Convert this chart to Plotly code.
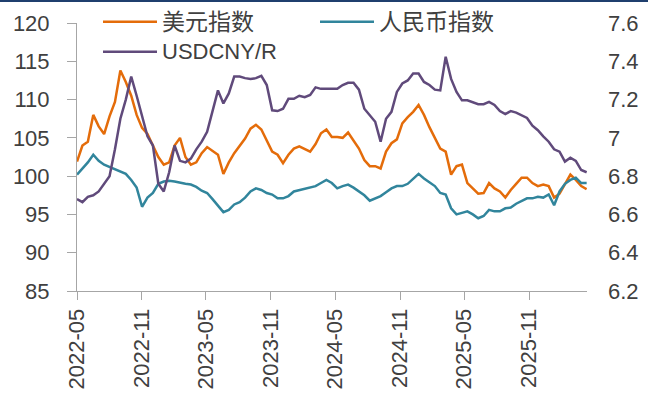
import pandas as pd
import plotly.graph_objects as go

# semi-monthly readings, 2022-05 to mid 2026-04
dates = pd.date_range("2022-05-01", "2026-04-13", periods=95)

usd_index = [
    101.9, 104.0, 104.5, 108.0, 106.5, 105.5, 107.8, 109.7, 113.8, 112.3,
    110.5, 108.0, 106.3, 105.5, 104.0, 102.5, 101.5, 101.8, 104.0, 105.0,
    102.5, 101.5, 101.8, 103.0, 103.8, 103.3, 102.8, 100.3, 101.8, 103.0,
    103.9, 104.9, 106.2, 106.7, 106.1, 104.7, 103.2, 102.8, 101.7, 102.8,
    103.6, 103.9, 103.6, 103.2, 104.2, 105.6, 106.1, 105.1, 105.1, 105.0,
    105.7, 104.6, 103.6, 102.1, 101.3, 101.3, 101.0, 103.2, 104.3, 104.8,
    106.9, 107.7, 108.4, 109.3, 108.0, 106.4, 104.9, 103.6, 103.2, 100.2,
    101.3, 101.5, 99.1, 98.4, 97.7, 97.8, 99.1, 98.4, 98.0, 97.2,
    98.2, 99.0, 99.8, 99.8, 99.1, 98.7, 98.9, 98.7, 97.2, 97.7,
    99.0, 100.2, 99.5, 98.7, 98.3,
]

rmb_index = [
    100.2, 101.0, 101.8, 102.8, 102.0, 101.5, 101.2, 101.0, 100.6, 100.3,
    99.5, 98.5, 96.0, 97.2, 97.8, 99.0, 99.3, 99.4, 99.3, 99.1,
    99.0, 98.9, 98.6, 98.1, 97.8, 97.0, 96.2, 95.3, 95.6, 96.3,
    96.6, 97.2, 98.0, 98.4, 98.2, 97.8, 97.6, 97.1, 97.1, 97.4,
    98.0, 98.2, 98.4, 98.5, 98.7, 99.1, 99.5, 99.1, 98.4, 98.7,
    98.9, 98.5, 98.0, 97.5, 96.8, 97.1, 97.4, 97.9, 98.4, 98.7,
    98.7, 99.0, 99.7, 100.3, 99.7, 99.2, 98.7, 97.8, 97.6, 95.8,
    95.0, 95.2, 95.4, 95.0, 94.5, 94.8, 95.6, 95.4, 95.4, 95.8,
    95.9, 96.4, 96.7, 97.1, 97.1, 97.3, 97.2, 97.6, 96.2, 98.0,
    99.0, 99.5, 99.8, 99.1, 99.1,
]

usdcny = [
    6.68, 6.664, 6.692, 6.70, 6.72, 6.76, 6.80, 6.94, 7.10, 7.20,
    7.32, 7.22, 7.12, 7.008, 6.96, 6.76, 6.72, 6.82, 6.96, 6.88,
    6.872, 6.892, 6.94, 6.98, 7.032, 7.136, 7.248, 7.18, 7.232, 7.32,
    7.32, 7.312, 7.308, 7.312, 7.324, 7.276, 7.144, 7.14, 7.152, 7.204,
    7.204, 7.22, 7.212, 7.224, 7.264, 7.256, 7.256, 7.256, 7.256, 7.276,
    7.288, 7.288, 7.252, 7.152, 7.12, 7.084, 6.98, 7.10, 7.136, 7.24,
    7.284, 7.30, 7.336, 7.336, 7.292, 7.276, 7.252, 7.248, 7.424, 7.308,
    7.24, 7.196, 7.196, 7.188, 7.176, 7.176, 7.188, 7.172, 7.14, 7.124,
    7.14, 7.132, 7.12, 7.104, 7.064, 7.04, 7.008, 6.98, 6.94, 6.928,
    6.876, 6.896, 6.88, 6.832, 6.82,
]

tick_dates = ["2022-05-01", "2022-11-01", "2023-05-01", "2023-11-01",
              "2024-05-01", "2024-11-01", "2025-05-01", "2025-11-01"]
tick_labels = ["2022-05", "2022-11", "2023-05", "2023-11",
               "2024-05", "2024-11", "2025-05", "2025-11"]

series_names = ["美元指数", "人民币指数", "USDCNY/R"]
colors = ["#E46C0A", "#31859C", "#604A7B"]

W, H = 648, 401
M_L, M_R, M_T, M_B = 77, 61, 23, 110
PW, PH = W - M_L - M_R, H - M_T - M_B


def px(x):
    return (x - M_L) / PW


def py(y):
    return (H - M_B - y) / PH


FONT = "Liberation Sans, Noto Sans CJK SC, sans-serif"
GREY = "#A6A6A6"

fig = go.Figure()
fig.add_trace(go.Scatter(x=dates, y=usd_index, mode="lines", name=series_names[0],
                         line=dict(color=colors[0], width=2.5)))
fig.add_trace(go.Scatter(x=dates, y=rmb_index, mode="lines", name=series_names[1],
                         line=dict(color=colors[1], width=2.5)))
fig.add_trace(go.Scatter(x=dates, y=usdcny, mode="lines", name=series_names[2],
                         yaxis="y2", line=dict(color=colors[2], width=2.5)))

# legend drawn by hand: long line samples, two columns
legend_pos = [(103, 21.7), (320, 21.7), (103, 51.7)]
for name, col, (lx, ly) in zip(series_names, colors, legend_pos):
    fig.add_shape(type="line", xref="paper", yref="paper",
                  x0=px(lx), x1=px(lx + 54), y0=py(ly), y1=py(ly),
                  line=dict(color=col, width=2.5))
    size = 23 if name != "USDCNY/R" else 22
    fig.add_annotation(xref="paper", yref="paper", x=px(lx + 57), y=py(ly),
                       text=name, showarrow=False, xanchor="left", yanchor="middle",
                       font=dict(size=size, color="#404040", family=FONT))

# dark rule along the top edge
fig.add_shape(type="line", xref="paper", yref="paper",
              x0=px(0), x1=px(W), y0=py(1), y1=py(1),
              line=dict(color="#1F3F6E", width=2))

fig.update_layout(
    width=W, height=H,
    margin=dict(l=M_L, r=M_R, t=M_T, b=M_B),
    paper_bgcolor="white", plot_bgcolor="white",
    showlegend=False,
    font=dict(family=FONT, size=22, color="#404040"),
    xaxis=dict(
        type="date", range=["2022-05-01", "2026-04-14"],
        tickvals=tick_dates, ticktext=tick_labels, tickangle=-90,
        ticks="outside", ticklen=8, tickcolor=GREY,
        showline=True, linecolor=GREY, linewidth=1,
        showgrid=False, zeroline=False, automargin=False,
        ticklabelstandoff=0,
    ),
    yaxis=dict(
        range=[85, 120], dtick=5,
        ticks="outside", ticklen=9, tickcolor=GREY,
        showline=True, linecolor=GREY, linewidth=1,
        showgrid=False, zeroline=False, automargin=False,
        ticklabelstandoff=13,
    ),
    yaxis2=dict(
        range=[6.2, 7.6], dtick=0.2, overlaying="y", side="right",
        showline=False, ticks="", showgrid=False, zeroline=False,
        automargin=False, ticklabelstandoff=20,
    ),
)

# page body has an 8px default margin; drop it so the figure sits at 0,0
fig.write_html("out.html", config={"displayModeBar": False},
               post_script="document.body.style.margin='0';document.body.style.overflow='hidden';")
